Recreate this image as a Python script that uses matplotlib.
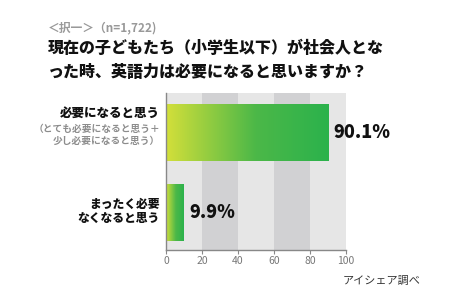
import numpy as np
import matplotlib
matplotlib.use("Agg")
import matplotlib.pyplot as plt
from matplotlib.colors import LinearSegmentedColormap

plt.rcParams['font.family'] = ['Noto Sans CJK JP', 'DejaVu Sans']

subtitle = "＜択一＞（n=1,722)"
title_lines = ["現在の子どもたち（小学生以下）が社会人とな",
               "った時、英語力は必要になると思いますか？"]
categories = ["必要になると思う", "まったく必要\nなくなると思う"]
cat_notes = ["（とても必要になると思う＋\n少し必要になると思う）", ""]
values = [90.1, 9.9]
value_labels = ["90.1%", "9.9%"]
xticks = [0, 20, 40, 60, 80, 100]
source = "アイシェア調べ"

fig = plt.figure(figsize=(4.5, 3.0), dpi=100)
fig.patch.set_facecolor('white')
ax = fig.add_axes([166/450, 1-250/300, 180/450, 157/300])

# striped background
for i in range(5):
    ax.axvspan(i*20, (i+1)*20, color='#e6e6e6' if i % 2 == 0 else '#d1d1d3', lw=0, zorder=0)

cmap = LinearSegmentedColormap.from_list('g', [(0, '#d3df3a'), (0.55, '#4cb848'), (1.0, '#2bb24c')])
grad = np.linspace(0, 1, 256).reshape(1, -1)
bh = 0.7125
for i, v in enumerate(values):
    bar = ax.barh(i, v, height=bh, color='none', edgecolor='none', zorder=2)[0]
    im = ax.imshow(grad, cmap=cmap, aspect='auto', extent=[0, v, i+bh/2, i-bh/2], zorder=2)
    im.set_clip_path(bar)
    ax.text(v + 3, i, value_labels[i], ha='left', va='center', fontsize=13,
            fontweight='black', color='#111111', zorder=3)

ax.set_xlim(0, 100)
ax.set_ylim(1.469, -0.494)
ax.set_xticks(xticks)
ax.set_xticklabels([str(t) for t in xticks], fontsize=7.5, color='#777777')
ax.tick_params(axis='x', length=3, color='#888888', pad=1)
ax.set_yticks([])
for s in ['top', 'right']:
    ax.spines[s].set_visible(False)
for s in ['left', 'bottom']:
    ax.spines[s].set_color('#888888')
    ax.spines[s].set_linewidth(1.0)

# category labels
fig.text(160/450, 1-113/300, categories[0], ha='right', va='center', fontsize=9,
         fontweight='black', color='#111111')
fig.text(160/450, 1-135/300, cat_notes[0], ha='right', va='center', fontsize=7,
         color='#8c8c8c', linespacing=1.3, fontweight='bold')
fig.text(160/450, 1-211/300, categories[1], ha='right', va='center', fontsize=8.5,
         fontweight='black', color='#111111', linespacing=1.15)

# titles
fig.text(48/450, 1-28/300, subtitle, ha='left', va='center', fontsize=8.5,
         color='#999999', fontweight='bold')
fig.text(48/450, 1-48/300, title_lines[0], ha='left', va='center', fontsize=11.5,
         fontweight='black', color='#111111')
fig.text(48/450, 1-72/300, title_lines[1], ha='left', va='center', fontsize=11.5,
         fontweight='black', color='#111111')

fig.text(343/450, 1-281/300, source, ha='left', va='center', fontsize=8, color='#333333')

fig.savefig('out.png', dpi=100, facecolor='white')
